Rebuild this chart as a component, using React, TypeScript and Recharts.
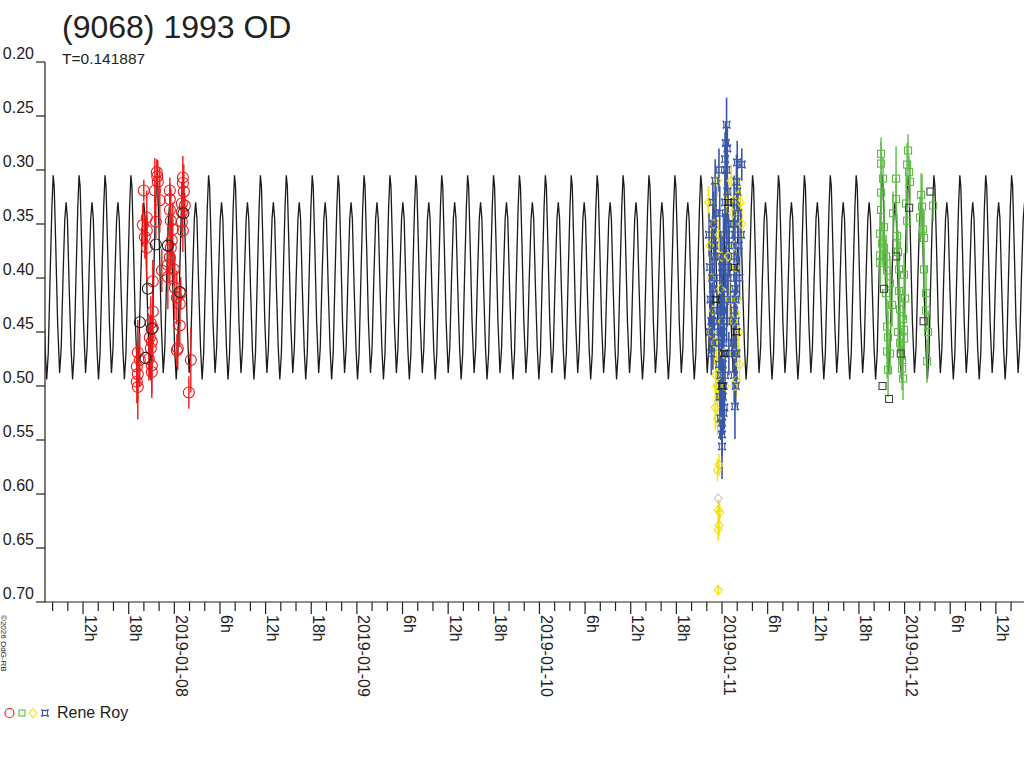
import React from "react";
import { ComposedChart, XAxis, YAxis, Line, Scatter, ErrorBar } from "recharts";

// period of the model lightcurve, as printed under the title (days)
const PERIOD_DAYS = 0.141887;
const PERIOD_H = PERIOD_DAYS * 24;
const EPOCH_H = 1.1; // hours after 2019-01-08 00:00 of a primary maximum

// one cycle of the model curve (phase, magnitude)
const CYCLE_PHASE = [0, 0.04, 0.1, 0.17, 0.25, 0.31, 0.38, 0.45, 0.5, 0.55, 0.62, 0.69, 0.75, 0.81, 0.88, 0.95];
const CYCLE_MAG = [0.305, 0.315, 0.37, 0.44, 0.488, 0.465, 0.4, 0.345, 0.33, 0.345, 0.41, 0.465, 0.494, 0.47, 0.4, 0.335];

const X_MIN = -17;
const X_MAX = 111.7;
const Y_TICKS = [0.2, 0.25, 0.3, 0.35, 0.4, 0.45, 0.5, 0.55, 0.6, 0.65, 0.7];
const DAY_LABELS = ["2019-01-07", "2019-01-08", "2019-01-09", "2019-01-10", "2019-01-11", "2019-01-12"];
const X_TICKS = Array.from({ length: 64 }, (_, i) => -16 + i * 2);

// observations: [hours from 2019-01-08 00:00, magnitude, error]
const RED_OBS = [
  [-2.3, 0.302, 0.012], [-2.25, 0.306, 0.015], [-2.17, 0.311, 0.02], [-4.01, 0.319, 0.01], [-2.56, 0.319, 0.03],
  [-0.59, 0.319, 0.012], [1.12, 0.307, 0.02], [1.12, 0.312, 0.01], [1.25, 0.32, 0.025], [-1.91, 0.328, 0.03],
  [-0.59, 0.327, 0.015], [0.99, 0.331, 0.02], [1.38, 0.333, 0.012], [-0.59, 0.337, 0.02], [-3.62, 0.344, 0.025],
  [0.99, 0.339, 0.01], [-2.43, 0.348, 0.015], [-0.46, 0.347, 0.03], [-4.14, 0.351, 0.02], [-3.62, 0.356, 0.012],
  [0.99, 0.348, 0.015], [1.12, 0.356, 0.02], [-0.2, 0.355, 0.025], [-3.88, 0.362, 0.02], [-0.33, 0.365, 0.015],
  [-3.62, 0.372, 0.03], [-0.46, 0.372, 0.02], [-0.59, 0.381, 0.025], [-0.85, 0.388, 0.015], [-1.64, 0.393, 0.02],
  [-0.07, 0.392, 0.015], [-0.85, 0.399, 0.03], [-2.83, 0.403, 0.02], [0.07, 0.409, 0.03], [0.85, 0.414, 0.015],
  [0.33, 0.418, 0.025], [0.72, 0.424, 0.02], [-2.83, 0.431, 0.03], [-3.09, 0.442, 0.025], [0.72, 0.444, 0.02],
  [-2.83, 0.446, 0.03], [-3.22, 0.455, 0.02], [-2.96, 0.459, 0.025], [-3.09, 0.465, 0.03], [0.46, 0.465, 0.02],
  [0.33, 0.467, 0.015], [-4.8, 0.469, 0.03], [-3.35, 0.475, 0.02], [-4.54, 0.476, 0.025], [-2.96, 0.481, 0.03],
  [-4.93, 0.482, 0.02], [2.17, 0.476, 0.03], [-4.8, 0.489, 0.025], [-2.96, 0.487, 0.02], [-4.93, 0.496, 0.02],
  [-4.8, 0.501, 0.03], [1.91, 0.506, 0.015],
];
const BLACK_CIRCLES = [
  [-4.54, 0.441, 0.02], [-3.48, 0.41, 0.02], [-2.43, 0.369, 0.02], [-2.96, 0.447, 0.02],
  [0.72, 0.413, 0.02], [-0.85, 0.37, 0.02], [-3.8, 0.474, 0.02], [1.2, 0.34, 0.02],
];
const BLUE_OBS = [
  [70.3, 0.36, 0.02], [70.4, 0.39, 0.02], [70.5, 0.42, 0.025], [70.6, 0.44, 0.02], [70.8, 0.33, 0.02],
  [70.9, 0.35, 0.03], [71.0, 0.37, 0.02], [71.1, 0.31, 0.02], [71.2, 0.34, 0.025], [70.7, 0.4, 0.02],
  [70.4, 0.45, 0.02], [70.9, 0.43, 0.02], [71.0, 0.38, 0.03], [70.6, 0.47, 0.02], [70.8, 0.41, 0.02],
  [71.0, 0.45, 0.02], [70.8, 0.46, 0.025],
  [71.6, 0.3, 0.02], [71.7, 0.34, 0.025], [71.8, 0.38, 0.02], [71.9, 0.42, 0.03], [72.0, 0.45, 0.02],
  [72.1, 0.48, 0.025], [72.2, 0.5, 0.02], [72.3, 0.52, 0.02], [72.0, 0.534, 0.02], [72.0, 0.556, 0.03],
  [72.4, 0.29, 0.025], [72.5, 0.275, 0.02], [72.6, 0.258, 0.025], [72.6, 0.3, 0.02], [72.7, 0.32, 0.03],
  [72.8, 0.35, 0.02], [72.9, 0.37, 0.025], [72.5, 0.39, 0.02], [72.3, 0.41, 0.03], [72.1, 0.43, 0.02],
  [71.9, 0.46, 0.02], [71.8, 0.49, 0.025], [71.7, 0.51, 0.02], [72.2, 0.36, 0.02], [72.4, 0.33, 0.03],
  [72.6, 0.44, 0.02], [72.8, 0.4, 0.025], [72.9, 0.47, 0.02], [72.2, 0.525, 0.02], [71.6, 0.44, 0.025],
  [72.7, 0.28, 0.02], [72.4, 0.49, 0.02], [72.0, 0.39, 0.03],
  [71.7, 0.4, 0.02], [71.8, 0.43, 0.025], [72.0, 0.47, 0.02], [71.9, 0.5, 0.02], [72.1, 0.51, 0.025],
  [71.8, 0.53, 0.02], [72.0, 0.545, 0.02], [72.2, 0.46, 0.025], [71.6, 0.48, 0.02], [72.3, 0.44, 0.02],
  [72.6, 0.36, 0.02], [72.7, 0.42, 0.025],
  [73.5, 0.35, 0.02], [73.6, 0.38, 0.02], [73.7, 0.41, 0.025], [73.8, 0.44, 0.02], [73.9, 0.47, 0.03],
  [74.0, 0.293, 0.02], [73.9, 0.311, 0.025], [74.0, 0.32, 0.02], [74.1, 0.34, 0.02], [74.2, 0.37, 0.025],
  [73.8, 0.5, 0.02], [73.7, 0.519, 0.03], [74.3, 0.4, 0.02], [74.6, 0.295, 0.015], [73.6, 0.43, 0.02],
  [74.5, 0.36, 0.02], [73.5, 0.46, 0.025], [73.7, 0.47, 0.02], [73.8, 0.42, 0.02], [73.6, 0.33, 0.025],
  [73.7, 0.36, 0.02], [73.9, 0.4, 0.02], [73.6, 0.49, 0.025],
];
const BLACK_STARS = [
  [72.3, 0.47, 0.02], [73.6, 0.39, 0.02], [71.2, 0.42, 0.02], [72.8, 0.33, 0.02], [73.9, 0.45, 0.02], [72.0, 0.5, 0.02],
];
const YELLOW_OBS = [
  [70.2, 0.33, 0.015], [70.4, 0.37, 0.015], [70.6, 0.4, 0.02], [70.8, 0.43, 0.015], [71.0, 0.46, 0.02],
  [71.2, 0.49, 0.015], [70.5, 0.45, 0.015], [70.9, 0.35, 0.02], [71.4, 0.31, 0.015], [71.6, 0.36, 0.015],
  [71.8, 0.41, 0.02], [72.0, 0.44, 0.015], [72.2, 0.47, 0.015], [72.4, 0.5, 0.02], [72.6, 0.33, 0.015],
  [72.8, 0.38, 0.015], [73.0, 0.42, 0.02], [73.2, 0.31, 0.015], [73.4, 0.34, 0.015], [73.6, 0.37, 0.02],
  [73.8, 0.39, 0.015], [74.0, 0.42, 0.015], [74.2, 0.45, 0.02], [74.4, 0.33, 0.015], [74.6, 0.35, 0.015],
  [74.1, 0.324, 0.02], [74.3, 0.48, 0.015], [73.9, 0.495, 0.015], [71.1, 0.52, 0.02], [71.3, 0.5, 0.015],
  [71.3, 0.47, 0.015], [71.5, 0.5, 0.015], [71.4, 0.53, 0.015], [71.6, 0.49, 0.015], [73.6, 0.47, 0.015],
  [73.7, 0.5, 0.015], [73.5, 0.44, 0.015], [71.9, 0.38, 0.015],
  [71.4, 0.578, 0.01], [71.6, 0.573, 0.01], [71.5, 0.615, 0.01], [71.7, 0.617, 0.01], [71.6, 0.629, 0.01],
  [71.5, 0.633, 0.01], [71.5, 0.689, 0.005],
];
const GREY_OBS = [[71.5, 0.604, 0.005]];
const GREEN_OBS = [
  [92.91, 0.285, 0.015], [92.91, 0.294, 0.02], [96.46, 0.282, 0.015], [96.33, 0.295, 0.02], [96.59, 0.302, 0.015],
  [93.17, 0.308, 0.02], [94.88, 0.308, 0.03], [96.72, 0.311, 0.02], [92.91, 0.321, 0.02], [94.88, 0.327, 0.02],
  [96.2, 0.331, 0.025], [98.17, 0.323, 0.02], [99.75, 0.333, 0.015], [98.3, 0.334, 0.03], [92.91, 0.337, 0.02],
  [94.49, 0.34, 0.02], [96.33, 0.347, 0.03], [98.04, 0.344, 0.02], [98.43, 0.355, 0.02], [93.3, 0.353, 0.025],
  [92.78, 0.359, 0.02], [95.01, 0.361, 0.02], [98.56, 0.363, 0.025], [93.04, 0.368, 0.02], [95.01, 0.369, 0.02],
  [93.3, 0.372, 0.02], [95.15, 0.376, 0.02], [92.78, 0.379, 0.025], [93.57, 0.38, 0.02], [92.78, 0.386, 0.02],
  [93.7, 0.393, 0.02], [95.28, 0.392, 0.025], [95.93, 0.397, 0.02], [98.56, 0.392, 0.02], [94.09, 0.405, 0.025],
  [93.57, 0.414, 0.02], [95.28, 0.412, 0.02], [96.07, 0.419, 0.02], [98.83, 0.414, 0.025], [94.36, 0.425, 0.02],
  [95.41, 0.429, 0.02], [98.83, 0.43, 0.02], [93.7, 0.445, 0.025], [95.8, 0.438, 0.02], [95.93, 0.448, 0.02],
  [95.15, 0.45, 0.02], [99.09, 0.45, 0.02], [93.83, 0.455, 0.025], [95.93, 0.456, 0.02], [95.41, 0.46, 0.02],
  [93.7, 0.468, 0.025], [94.09, 0.47, 0.02], [95.67, 0.476, 0.02], [98.96, 0.477, 0.02], [93.83, 0.485, 0.025],
  [95.67, 0.484, 0.02], [95.8, 0.493, 0.02],
];
const BLACK_SQUARES = [
  [96.6, 0.335, 0.02], [94.9, 0.38, 0.02], [98.5, 0.44, 0.02], [93.3, 0.41, 0.02],
  [95.5, 0.47, 0.02], [99.4, 0.32, 0.015], [93.1, 0.5, 0.02], [93.96, 0.512, 0.02],
];

const toPoints = (rows: number[][]) => rows.map(([h, v, e]) => ({ h, v, e }));

// tile the read cycle with the printed period over the time range
const modelCurve: { h: number; v: number }[] = [];
for (let k = Math.floor((X_MIN - EPOCH_H) / PERIOD_H) - 1; k * PERIOD_H + EPOCH_H < X_MAX + PERIOD_H; k++) {
  CYCLE_PHASE.forEach((p, i) => {
    modelCurve.push({ h: EPOCH_H + (k + p) * PERIOD_H, v: CYCLE_MAG[i] });
  });
}

const RED = "#f01818";
const GREEN = "#5cbc44";
const BLUE = "#3a58aa";
const YELLOW = "#f2e200";
const DARK = "#222222";
const FONT = "'Liberation Sans', Arial, sans-serif";

const circle = (color: string) => (props: any) => (
  <circle cx={props.cx} cy={props.cy} r={5.5} fill="none" stroke={color} strokeWidth={1.1} />
);
const square = (color: string) => (props: any) => (
  <rect x={props.cx - 3.5} y={props.cy - 3.5} width={7} height={7} fill="none" stroke={color} strokeWidth={1.1} />
);
const diamond = (color: string) => (props: any) => (
  <path
    d={`M${props.cx},${props.cy - 4.5}L${props.cx + 4},${props.cy}L${props.cx},${props.cy + 4.5}L${props.cx - 4},${props.cy}Z`}
    fill="none"
    stroke={color}
    strokeWidth={1.1}
  />
);
const starPath = (cx: number, cy: number, s: number) =>
  `M${cx - s},${cy - s}Q${cx},${cy - s / 3} ${cx + s},${cy - s}Q${cx + s / 3},${cy} ${cx + s},${cy + s}` +
  `Q${cx},${cy + s / 3} ${cx - s},${cy + s}Q${cx - s / 3},${cy} ${cx - s},${cy - s}Z`;
const star = (color: string) => (props: any) => (
  <path d={starPath(props.cx, props.cy, 3.8)} fill="none" stroke={color} strokeWidth={1.1} />
);

const XTick = (props: any) => {
  const { x, y, payload } = props;
  const h = payload.value;
  const major = h % 6 === 0;
  let label = "";
  if (h % 24 === 0) label = DAY_LABELS[Math.floor(h / 24) + 1];
  else if (major) label = `${((h % 24) + 24) % 24}h`;
  return (
    <g>
      <line x1={x} y1={y} x2={x} y2={y + (major ? 12 : 9)} stroke={DARK} strokeWidth={1.2} />
      {label && (
        <text transform={`translate(${x + 1.5},${y + 13}) rotate(90)`} fontSize={16} fill={DARK} fontFamily={FONT}>
          {label}
        </text>
      )}
    </g>
  );
};

const YTick = (props: any) => {
  const { x, y, payload } = props;
  return (
    <g>
      <line x1={x - 9} y1={y} x2={x} y2={y} stroke={DARK} strokeWidth={1.2} />
      <text x={x - 11} y={y - 3} textAnchor="end" fontSize={16} fill={DARK} fontFamily={FONT}>
        {payload.value.toFixed(2)}
      </text>
    </g>
  );
};

export default function App() {
  return (
    <div style={{ position: "absolute", left: 0, top: 0, width: 1024, height: 768, background: "#fff" }}>
      <ComposedChart width={1024} height={768} margin={{ top: 62, right: 0, bottom: 0, left: 0 }}>
        <XAxis
          dataKey="h"
          type="number"
          domain={[X_MIN, X_MAX]}
          allowDataOverflow
          ticks={X_TICKS}
          interval={0}
          height={166}
          tickSize={0}
          tickMargin={0}
          tick={<XTick />}
          axisLine={{ stroke: DARK, strokeWidth: 1.2 }}
        />
        <YAxis
          dataKey="v"
          type="number"
          domain={[0.2, 0.7]}
          reversed
          allowDataOverflow
          ticks={Y_TICKS}
          interval={0}
          width={45}
          tickSize={0}
          tickMargin={0}
          tick={<YTick />}
          axisLine={{ stroke: DARK, strokeWidth: 1.2 }}
        />
        <Line
          data={modelCurve}
          dataKey="v"
          type="linear"
          stroke="#1a1a1a"
          strokeWidth={1.3}
          dot={false}
          activeDot={false}
          isAnimationActive={false}
        />
        <Scatter data={toPoints(RED_OBS)} shape={circle(RED)} isAnimationActive={false}>
          <ErrorBar dataKey="e" direction="y" width={0} stroke={RED} strokeWidth={1.4} />
        </Scatter>
        <Scatter data={toPoints(BLACK_CIRCLES)} shape={circle(DARK)} isAnimationActive={false} />
        <Scatter data={toPoints(YELLOW_OBS)} shape={diamond(YELLOW)} isAnimationActive={false}>
          <ErrorBar dataKey="e" direction="y" width={0} stroke={YELLOW} strokeWidth={1.4} />
        </Scatter>
        <Scatter data={toPoints(GREY_OBS)} shape={diamond("#c8c8c8")} isAnimationActive={false} />
        <Scatter data={toPoints(BLUE_OBS)} shape={star(BLUE)} isAnimationActive={false}>
          <ErrorBar dataKey="e" direction="y" width={0} stroke={BLUE} strokeWidth={1.6} />
        </Scatter>
        <Scatter data={toPoints(BLACK_STARS)} shape={star(DARK)} isAnimationActive={false} />
        <Scatter data={toPoints(GREEN_OBS)} shape={square(GREEN)} isAnimationActive={false}>
          <ErrorBar dataKey="e" direction="y" width={0} stroke={GREEN} strokeWidth={1.4} />
        </Scatter>
        <Scatter data={toPoints(BLACK_SQUARES)} shape={square("#444444")} isAnimationActive={false} />
      </ComposedChart>
      <svg width={1024} height={768} style={{ position: "absolute", left: 0, top: 0, pointerEvents: "none" }}>
        <text x={62} y={38} fontSize={32} fill={DARK} fontFamily={FONT}>
          (9068) 1993 OD
        </text>
        <text x={62} y={64} fontSize={15.5} fill={DARK} fontFamily={FONT}>
          T=0.141887
        </text>
        <text transform="translate(1,615) rotate(90)" fontSize={8} fill={DARK} fontFamily={FONT}>
          ©2026 OdG-RB
        </text>
        <circle cx={9.5} cy={713} r={4.5} fill="none" stroke={RED} strokeWidth={1.1} />
        <rect x={19} y={710} width={6} height={6} fill="none" stroke={GREEN} strokeWidth={1.1} />
        <path d="M33,708.5L37,713L33,717.5L29,713Z" fill="none" stroke={YELLOW} strokeWidth={1.1} />
        <path d={starPath(45, 713, 3.5)} fill="none" stroke={BLUE} strokeWidth={1.1} />
        <text x={57} y={718} fontSize={16} fill={DARK} fontFamily={FONT}>
          Rene Roy
        </text>
      </svg>
    </div>
  );
}
